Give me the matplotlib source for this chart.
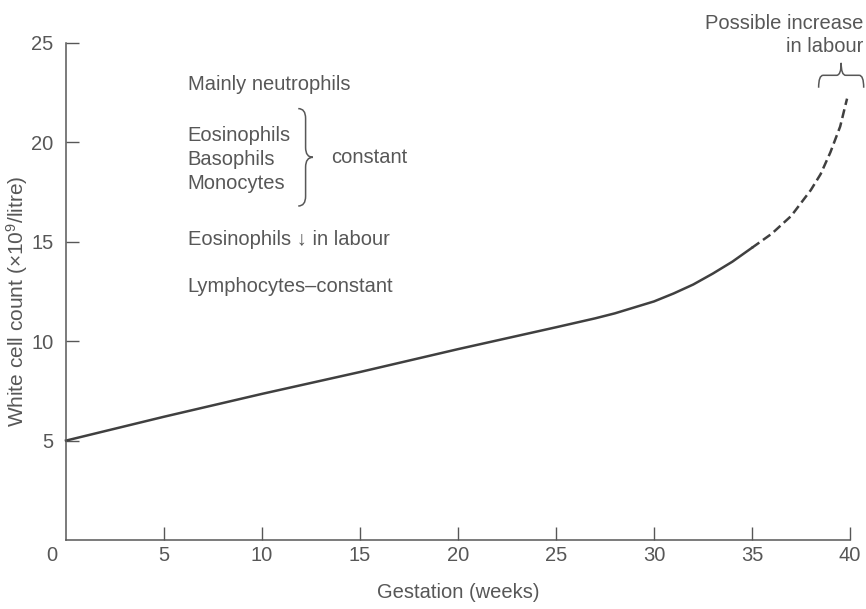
import numpy as np
import matplotlib
matplotlib.use("Agg")
import matplotlib.pyplot as plt
from matplotlib.path import Path
from matplotlib.patches import PathPatch

plt.rcParams["font.family"] = ["Liberation Sans", "DejaVu Sans"]
plt.rcParams["mathtext.fontset"] = "custom"
plt.rcParams["mathtext.rm"] = "Liberation Sans"
plt.rcParams["mathtext.default"] = "regular"

# white cell count through pregnancy
weeks_solid = [0, 5, 10, 15, 20, 25, 27, 28, 29, 30, 31, 32, 33, 34, 35]
wcc_solid = [5.0, 6.2, 7.35, 8.45, 9.6, 10.7, 11.15, 11.4, 11.7, 12.0,
             12.4, 12.85, 13.4, 14.0, 14.7]
weeks_labour = [35, 36, 37, 38, 38.5, 39, 39.5, 39.85]
wcc_labour = [14.7, 15.4, 16.3, 17.6, 18.4, 19.5, 20.8, 22.2]

x_ticks = [5, 10, 15, 20, 25, 30, 35, 40]
y_ticks = [5, 10, 15, 20, 25]

grey = "#575757"
line_col = "#404040"
fs = 14.5


def brace(ax, p0, p1, depth, vertical):
    # curly brace, u runs along its length, v across towards the tip
    uv = [(0, 0), (0, 0.5), (0.1, 0.5), (0.4, 0.5), (0.5, 0.5), (0.5, 1),
          (0.5, 0.5), (0.6, 0.5), (0.9, 0.5), (1, 0.5), (1, 0)]
    codes = [Path.MOVETO, Path.CURVE3, Path.CURVE3, Path.LINETO,
             Path.CURVE3, Path.CURVE3, Path.CURVE3, Path.CURVE3,
             Path.LINETO, Path.CURVE3, Path.CURVE3]
    pts = []
    for u, v in uv:
        if vertical:
            pts.append((p0[0] + v * depth, p0[1] + u * (p1[1] - p0[1])))
        else:
            pts.append((p0[0] + u * (p1[0] - p0[0]), p0[1] + v * depth))
    ax.add_patch(PathPatch(Path(pts, codes), fill=False, lw=1.1,
                           ec=grey, clip_on=False))


fig = plt.figure(figsize=(8.66, 6.09), dpi=100)
ax = fig.add_axes([0.0762, 0.1133, 0.9053, 0.8161])

ax.plot(weeks_solid, wcc_solid, color=line_col, lw=1.8, clip_on=False,
        solid_joinstyle="round")
ax.plot(weeks_labour, wcc_labour, color=line_col, lw=1.8,
        dashes=(3.6, 1.8), clip_on=False)

ax.set_xlim(0, 40)
ax.set_ylim(0, 25)
ax.set_xticks(x_ticks)
ax.set_yticks(y_ticks)
for s in ["top", "right"]:
    ax.spines[s].set_visible(False)
for s in ["left", "bottom"]:
    ax.spines[s].set_color(grey)
    ax.spines[s].set_linewidth(1.1)
ax.tick_params(axis="both", direction="in", length=9.5, width=1.0,
               color=grey, labelcolor=grey, labelsize=fs)
ax.tick_params(axis="y", pad=9)
ax.tick_params(axis="x", pad=4)
ax.annotate("0", xy=(0, 0), xytext=(-10, -4), textcoords="offset points",
            ha="center", va="top", fontsize=fs, color=grey,
            annotation_clip=False)

ax.set_xlabel("Gestation (weeks)", fontsize=fs, color=grey, labelpad=13)
ax.set_ylabel("White cell count (\u00d710$^9$/litre)", fontsize=15,
              color=grey)
ax.yaxis.set_label_coords(-0.046, 0.48)

txt = dict(fontsize=fs, color=grey, va="center", ha="left")
ax.text(6.2, 22.9, "Mainly neutrophils", **txt)
ax.text(6.2, 20.35, "Eosinophils", **txt)
ax.text(6.2, 19.15, "Basophils", **txt)
ax.text(6.2, 17.95, "Monocytes", **txt)
ax.text(6.2, 15.1, "Eosinophils \u2193 in labour", **txt)
ax.text(6.2, 12.75, "Lymphocytes\u2013constant", **txt)
brace(ax, (11.85, 21.7), (11.85, 16.8), 0.75, True)
ax.text(13.55, 19.25, "constant", **txt)

ax.text(40.7, 26.0, "Possible increase", fontsize=fs, color=grey,
        ha="right", va="center")
ax.text(40.7, 24.8, "in labour", fontsize=fs, color=grey,
        ha="right", va="center")
brace(ax, (38.4, 22.75), (40.7, 22.75), 1.25, False)

fig.savefig("out.png", dpi=100)
